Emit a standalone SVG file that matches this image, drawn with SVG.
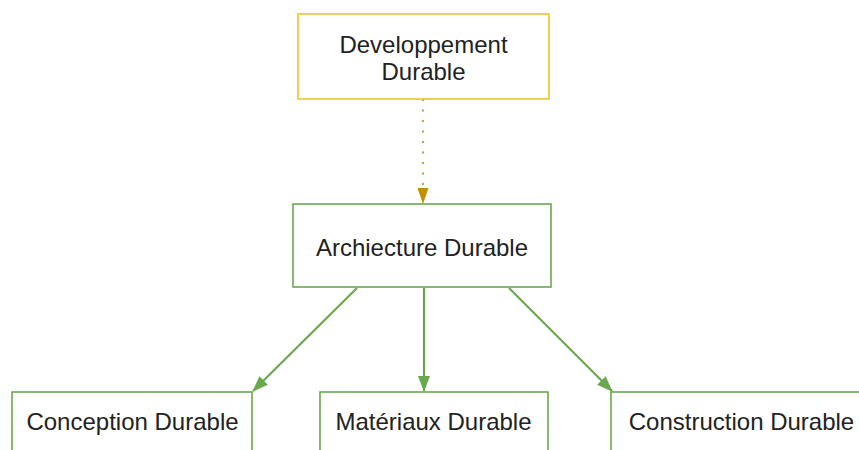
<svg xmlns="http://www.w3.org/2000/svg" width="859" height="450" viewBox="0 0 859 450">
<defs>
<style>
.box{fill:#ffffff;stroke-width:1.6}
.g{stroke:#6aa84f}
.y{stroke:#f1c232}
.t{font-family:"Liberation Sans",Arial,sans-serif;font-size:24px;fill:#222222;text-anchor:middle}
.c{stroke:#6aa84f;stroke-width:2.2;fill:none}
</style>
<marker id="ag" viewBox="0 0 16 12" refX="15" refY="6" markerWidth="16" markerHeight="12" markerUnits="userSpaceOnUse" orient="auto">
<path d="M0,0 L16,6 L0,12 Z" fill="#6aa84f"/>
</marker>
<marker id="ay" viewBox="0 0 16 11" refX="15" refY="5.5" markerWidth="16" markerHeight="11" markerUnits="userSpaceOnUse" orient="auto">
<path d="M0,0 L16,5.5 L0,11 Z" fill="#bf9000"/>
</marker>
</defs>
<rect width="859" height="450" fill="#ffffff"/>
<g id="connectors">
<path d="M423,100 L423,203" stroke="#c9a050" stroke-width="2.4" stroke-linecap="round" stroke-dasharray="0 10.5" fill="none" marker-end="url(#ay)"/>
<line class="c" x1="357" y1="288" x2="253" y2="391" marker-end="url(#ag)"/>
<line class="c" x1="424" y1="288" x2="424" y2="391" marker-end="url(#ag)"/>
<line class="c" x1="509" y1="288" x2="612" y2="391" marker-end="url(#ag)"/>
</g>
<g id="developpement">
<rect class="box y" x="298" y="14" width="251" height="85"/>
<text class="t" x="423.5" y="53">Developpement</text>
<text class="t" x="423.5" y="80">Durable</text>
</g>
<g id="architecture">
<rect class="box g" x="293" y="204" width="258" height="83"/>
<text class="t" x="422" y="256">Archiecture Durable</text>
</g>
<g id="conception">
<rect class="box g" x="12" y="392" width="240" height="70"/>
<text class="t" x="132.5" y="430">Conception Durable</text>
</g>
<g id="materiaux">
<rect class="box g" x="320" y="392" width="228" height="70"/>
<text class="t" x="433.5" y="430">Matériaux Durable</text>
</g>
<g id="construction">
<rect class="box g" x="611" y="392" width="260" height="70"/>
<text class="t" x="741.5" y="430">Construction Durable</text>
</g>
</svg>
